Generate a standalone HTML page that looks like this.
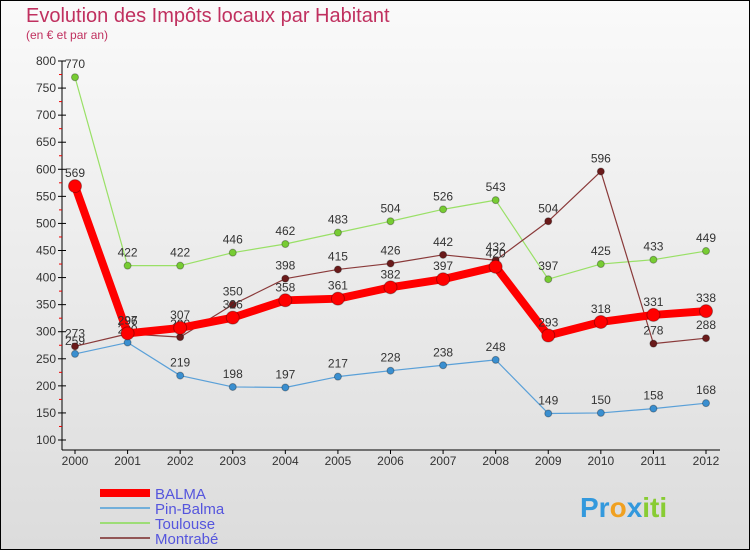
<!DOCTYPE html>
<html><head><meta charset="utf-8"><style>
body{margin:0;width:750px;height:550px;overflow:hidden;font-family:"Liberation Sans",sans-serif}
svg{display:block}
</style></head><body>
<svg id="c" width="750" height="550">
<defs>
<linearGradient id="bg" x1="0" y1="0" x2="0" y2="1"><stop offset="0" stop-color="#fafafa"/><stop offset="1" stop-color="#dcdcdc"/></linearGradient>
</defs>
<rect x="0.5" y="0.5" width="749" height="549" fill="url(#bg)" stroke="#000"/>
<text x="26" y="22" font-size="20" fill="#c0305f">Evolution des Impôts locaux par Habitant</text>
<text x="26" y="39" font-size="12" fill="#c0305f">(en € et par an)</text>
<g id="axes"></g><g id="series"></g>
<g font-size="15" fill="#4444cc">
<line x1="100" y1="493" x2="150" y2="493" stroke="#ff0000" stroke-width="8"/>
<text x="155" y="499" fill="#5555dd">BALMA</text>
<line x1="100" y1="508" x2="150" y2="508" stroke="#4f9fd8" stroke-width="1.5"/>
<text x="155" y="514" fill="#5555dd">Pin-Balma</text>
<line x1="100" y1="523" x2="150" y2="523" stroke="#88dd55" stroke-width="1.5"/>
<text x="155" y="529" fill="#5555dd">Toulouse</text>
<line x1="100" y1="538" x2="150" y2="538" stroke="#7a2a2a" stroke-width="1.5"/>
<text x="155" y="544" fill="#5555dd">Montrabé</text>
</g>
<text x="580" y="517" font-size="28" font-weight="bold" fill="#3399dd">Pr<tspan fill="#f0a020">o</tspan><tspan fill="#3399dd">x</tspan><tspan fill="#88cc33">iti</tspan></text>
</svg>
<script>
const years=[2000,2001,2002,2003,2004,2005,2006,2007,2008,2009,2010,2011,2012];
const balma=[569,297,307,326,358,361,382,397,420,293,318,331,338];
const pinBalma=[259,280,219,198,197,217,228,238,248,149,150,158,168];
const toulouse=[770,422,422,446,462,483,504,526,543,397,425,433,449];
const montrabe=[273,296,290,350,398,415,426,442,432,504,596,278,288];
const yTicks=[100,150,200,250,300,350,400,450,500,550,600,650,700,750,800];
const NS="http://www.w3.org/2000/svg";
const x=i=>75+i*(706-75)/12;
const y=v=>440-(v-100)*(440-61)/700;
function mk(t,a,p){const e=document.createElementNS(NS,t);for(const k in a)e.setAttribute(k,a[k]);p.appendChild(e);return e;}
const ax=document.getElementById('axes');
const yl=mk('line',{x1:62,y1:61,x2:62,y2:450,stroke:'#000'},ax);


const xl=mk('line',{x1:62,y1:450,x2:720,y2:450,stroke:'#000'},ax);


yTicks.forEach(v=>{
 mk('line',{x1:58,y1:y(v),x2:66,y2:y(v),stroke:'#000'},ax);
 if(v<800)mk('line',{x1:59,y1:y(v+25),x2:62,y2:y(v+25),stroke:'#e00'},ax);
 const t=mk('text',{x:56,y:y(v)+4,'font-size':12,'text-anchor':'end',fill:'#333'},ax);
 t.textContent=v;
 
 
});
years.forEach((yr,i)=>{
 mk('line',{x1:x(i),y1:450,x2:x(i),y2:454,stroke:'#000'},ax);
 const t=mk('text',{x:x(i),y:465,'font-size':12,'text-anchor':'middle',fill:'#333'},ax);
 t.textContent=yr;
 
 
});
const sg=document.getElementById('series');
function series(data,name,color,w,r,dot){
 const g=mk('g',{},sg);
 
 
 const pl=mk('polyline',{points:data.map((v,i)=>x(i)+','+y(v)).join(' '),fill:'none',stroke:color,'stroke-width':w,'stroke-linejoin':'round'},g);
 
 
 data.forEach((v,i)=>{
  const c=mk('circle',{cx:x(i),cy:y(v),r:r,fill:dot,stroke:'rgba(0,0,0,0.3)'},g);
  
  
  const t=mk('text',{x:x(i),y:y(v)-9,'font-size':12,'text-anchor':'middle',fill:'#333'},g);
  t.textContent=v;
  
  
 });
}
series(pinBalma,'pin-balma','#5aa0d8',1.2,3.5,'#3a8fd0');
series(toulouse,'toulouse','#99e066',1.2,3.5,'#77cc33');
series(montrabe,'montrabe','#8a3a3a',1.2,3.5,'#6a1a1a');
series(balma,'balma','#ff0000',8,6.5,'#ff0000');
</script>
</body></html>
